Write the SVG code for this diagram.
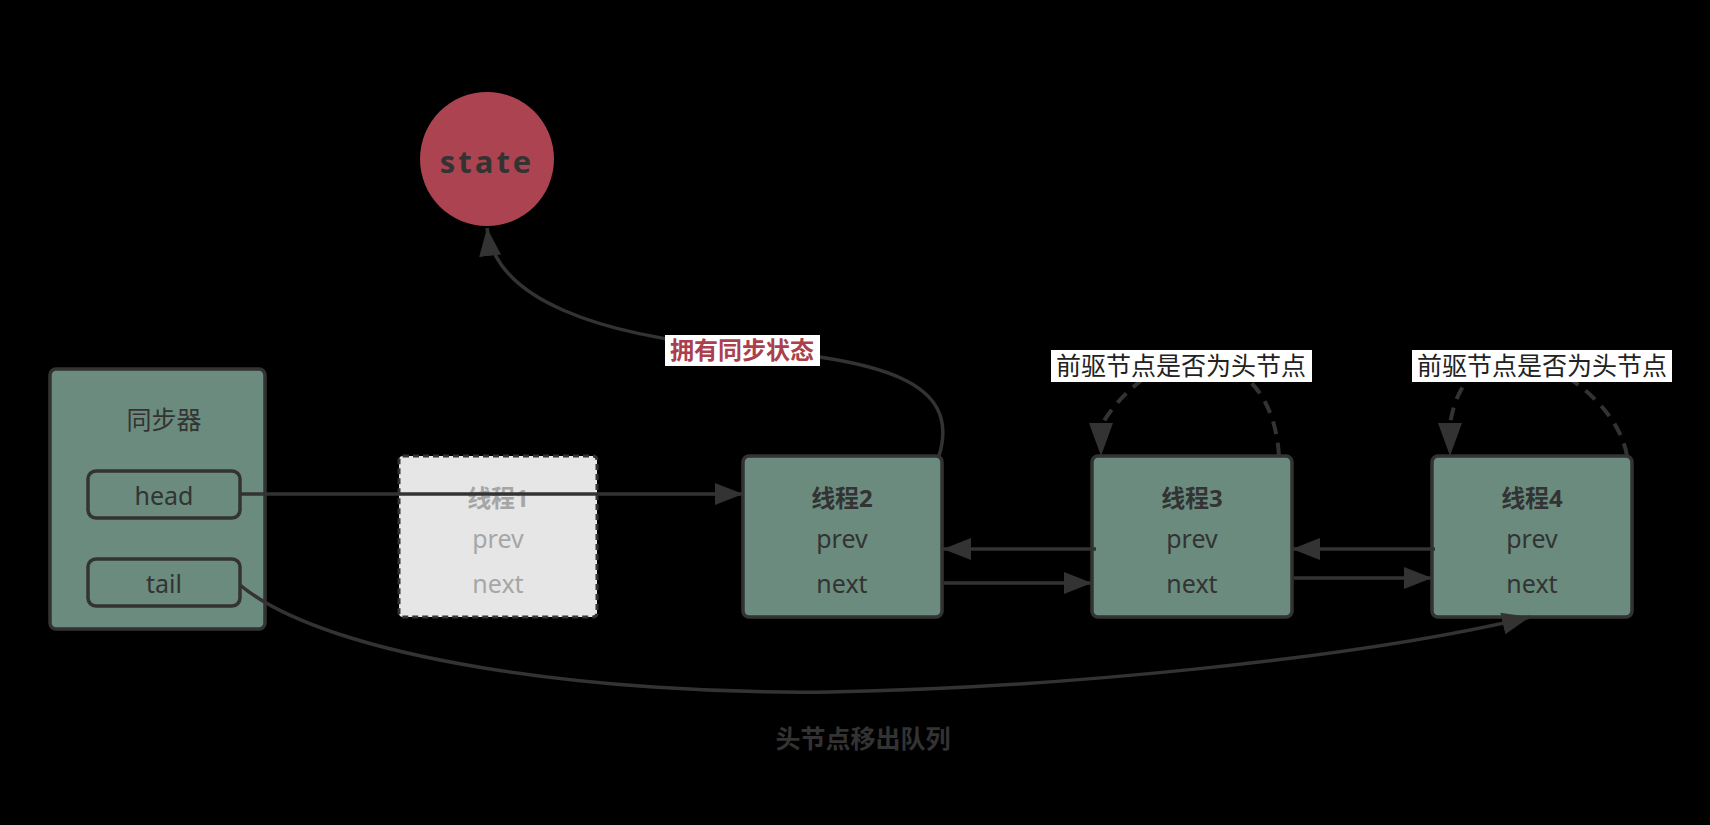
<svg xmlns="http://www.w3.org/2000/svg" width="1710" height="825" viewBox="0 0 1710 825">
<defs>
<style>
.node{fill:#6a8b7e;stroke:#333;stroke-width:3.5}
.ghost{fill:#e6e6e6;stroke:#333;stroke-width:3;stroke-dasharray:6 4}
.t{font-family:"Noto Sans","Open Sans","Noto Sans CJK SC",sans-serif;font-size:25px;fill:#333;text-anchor:middle}
.b{font-weight:bold;font-size:24px}
.g{fill:#a6a6a6}
.conn{fill:none;stroke:#333;stroke-width:3.5}
.dash{fill:none;stroke:#333;stroke-width:4;stroke-dasharray:13 9}
.head{fill:#333}
.lbl{fill:#fff}
</style>
<marker id="arr" markerUnits="userSpaceOnUse" markerWidth="30" markerHeight="24" refX="28" refY="11" orient="auto">
<path d="M0,0 L28,11 L0,22 z" fill="#333"/>
</marker>
</defs>
<rect x="0" y="0" width="1710" height="825" fill="#000"/>

<g id="state">
<circle cx="487" cy="159" r="67" fill="#ab4450"/>
<text x="487" y="173" class="t" style="font-family:'Open Sans','Noto Sans',sans-serif;font-weight:bold;font-size:31px;letter-spacing:3px">state</text>
</g>

<g id="sync">
<rect x="50" y="369" width="215" height="260" rx="6" class="node"/>
<text x="164" y="429" class="t">同步器</text>
</g>
<g id="head">
<rect x="88" y="471" width="152" height="47" rx="8" class="node"/>
<text x="164" y="505" class="t">head</text>
</g>
<g id="tail">
<rect x="88" y="559" width="152" height="47" rx="8" class="node"/>
<text x="164" y="593" class="t">tail</text>
</g>

<g id="thread1">
<rect x="399" y="456" width="198" height="161" rx="4" class="ghost"/>
<text x="498" y="507" class="t b g">线程1</text>
<text x="498" y="548" class="t g">prev</text>
<text x="498" y="593" class="t g">next</text>
</g>
<g id="thread2">
<rect x="743" y="456" width="199" height="161" rx="6" class="node"/>
<text x="842" y="507" class="t b">线程2</text>
<text x="842" y="548" class="t">prev</text>
<text x="842" y="593" class="t">next</text>
</g>
<g id="thread3">
<rect x="1092" y="456" width="200" height="161" rx="6" class="node"/>
<text x="1192" y="507" class="t b">线程3</text>
<text x="1192" y="548" class="t">prev</text>
<text x="1192" y="593" class="t">next</text>
</g>
<g id="thread4">
<rect x="1432" y="456" width="200" height="161" rx="6" class="node"/>
<text x="1532" y="507" class="t b">线程4</text>
<text x="1532" y="548" class="t">prev</text>
<text x="1532" y="593" class="t">next</text>
</g>

<g id="connectors">
<path class="conn" d="M240 494 L743 494" marker-end="url(#arr)"/>
<path class="conn" d="M1096 549 L943 549" marker-end="url(#arr)"/>
<path class="conn" d="M944 583 L1092 583" marker-end="url(#arr)"/>
<path class="conn" d="M1435 549 L1292 549" marker-end="url(#arr)"/>
<path class="conn" d="M1294 578 L1432 578" marker-end="url(#arr)"/>
<path class="conn" d="M240 585 C330 660 600 695 830 692 C1050 688 1350 660 1530 617" marker-end="url(#arr)"/>
<path class="conn" d="M939 456 C962 380 880 360 740 348 C600 336 495 300 487 228" marker-end="url(#arr)"/>
<path class="dash" d="M1279 456 C1272 340 1160 330 1102 424"/>
<polygon class="head" points="1089,423 1113,423 1101,456"/>
<path class="dash" d="M1627 456 C1615 380 1470 300 1450 424"/>
<polygon class="head" points="1438,423 1462,423 1450,456"/>
<rect x="665" y="335" width="155" height="31" class="lbl"/>
<text x="742" y="359" class="t b" style="fill:#ab3f4d">拥有同步状态</text>
<rect x="1051" y="350" width="261" height="32" class="lbl"/>
<text x="1181" y="375" class="t" style="fill:#222">前驱节点是否为头节点</text>
<rect x="1412" y="350" width="260" height="32" class="lbl"/>
<text x="1542" y="375" class="t" style="fill:#222">前驱节点是否为头节点</text>
<text x="863" y="748" class="t b" style="font-size:25px">头节点移出队列</text>
</g>
</svg>
